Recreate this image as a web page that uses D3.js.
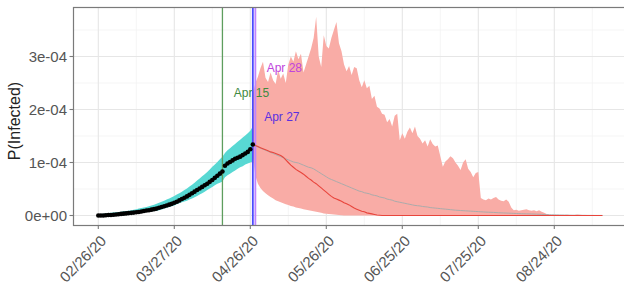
<!DOCTYPE html>
<html>
<head>
<meta charset="utf-8">
<script src="https://cdn.jsdelivr.net/npm/d3@7"></script>
<style>
  html, body { margin: 0; padding: 0; background: #fff; }
  svg { display: block; }
</style>
</head>
<body>
<svg id="chart" width="624" height="289"></svg>
<script>
// ---------------- DATA (values in units of 1e-4) ----------------
const obsStart = "02/26/20";
const obsVal = [
  0.00,0.00,0.00,0.005,0.01,0.01,0.015,0.02,0.025,0.03,
  0.035,0.04,0.045,0.05,0.055,0.06,0.065,0.075,0.085,0.095,
  0.10,0.11,0.12,0.13,0.145,0.16,0.175,0.19,0.205,0.22,
  0.24,0.26,0.285,0.31,0.335,0.36,0.39,0.42,0.45,0.48,
  0.51,0.54,0.57,0.60,0.635,0.67,0.71,0.75,0.79,0.83,
  0.94,0.98,1.01,1.04,1.07,1.09,1.11,1.14,1.17,1.20,
  1.25,1.34
];
const obsHi = [
  0.03,0.03,0.035,0.04,0.045,0.05,0.055,0.06,0.065,0.07,
  0.08,0.085,0.09,0.10,0.11,0.12,0.13,0.14,0.15,0.16,
  0.175,0.19,0.205,0.22,0.24,0.26,0.28,0.30,0.32,0.345,
  0.37,0.395,0.42,0.45,0.48,0.51,0.545,0.58,0.62,0.66,
  0.70,0.74,0.78,0.82,0.87,0.92,0.96,1.01,1.06,1.11,
  1.18,1.23,1.27,1.31,1.35,1.39,1.43,1.47,1.51,1.55,
  1.60,1.68
];
const obsLo = [
  0,0,0,0,0,0,0,0,0,0,
  0.005,0.01,0.015,0.02,0.03,0.035,0.04,0.05,0.06,0.07,
  0.075,0.08,0.085,0.09,0.10,0.115,0.13,0.145,0.16,0.175,
  0.19,0.21,0.23,0.25,0.265,0.28,0.30,0.32,0.345,0.37,
  0.395,0.42,0.45,0.48,0.51,0.54,0.57,0.60,0.62,0.64,
  0.72,0.76,0.79,0.82,0.85,0.88,0.91,0.93,0.96,0.98,
  1.00,1.02
];

const predStart = "04/27/20";
const predHi = [
  2.3,2.5,2.62,2.78,2.9,2.6,2.52,2.7,2.55,2.48,
  2.75,2.58,2.68,2.5,2.85,3.0,2.9,3.1,2.95,3.05,
  2.7,2.85,3.0,3.15,3.35,3.75,3.0,2.8,3.4,3.2,
  3.15,3.35,3.5,3.65,3.25,3.1,2.85,2.72,2.82,2.65,
  2.8,2.78,2.55,2.42,2.55,2.4,2.45,2.2,2.26,2.05,
  2.02,1.92,1.9,1.76,1.82,1.68,1.88,1.92,1.42,1.55,
  1.45,1.58,1.66,1.55,1.68,1.5,1.45,1.36,1.42,1.3,
  1.44,1.35,1.3,1.32,1.12,0.92,1.02,1.06,1.12,1.08,
  1.0,0.94,0.86,1.0,1.06,0.88,0.82,0.72,0.8,0.82,
  0.33,0.3,0.29,0.32,0.3,0.33,0.35,0.3,0.28,0.27,
  0.3,0.26,0.15,0.1,0.11,0.09,0.1,0.11,0.12,0.1,
  0.09,0.1,0.08,0.1,0.07,0.05,0.03,0.01,0,0,
  0.005,0,0,0.01,0.015,0.01,0,0.01,0.02,0.015,
  0.01,0,0.01,0.005,0,0,0,0,0
];
const predLo = [
  1.1,0.75,0.6,0.52,0.46,0.42,0.38,0.35,0.32,0.29,
  0.27,0.25,0.23,0.21,0.2,0.18,0.17,0.15,0.14,0.13,
  0.12,0.11,0.1,0.09,0.08,0.07,0.06,0.05,0.04,0.035,
  0.03,0.025,0.02,0.015,0.01,0.005,0,0,0,0,
  0,0,0,0,0,0,0,0,0,0,
  0,0,0,0,0,0,0,0,0,0,
  0,0,0,0,0,0,0,0,0,0,
  0,0,0,0,0,0,0,0,0,0,
  0,0,0,0,0,0,0,0,0,0,
  0,0,0,0,0,0,0,0,0,0,
  0,0,0,0,0,0,0,0,0,0,
  0,0,0,0,0,0,0,0,0,0,
  0,0,0,0,0,0,0,0,0,0,
  0,0,0,0,0,0,0,0,0
];
const predMed = [
  1.34,1.32,1.3,1.28,1.26,1.24,1.22,1.2,1.19,1.17,
  1.15,1.13,1.1,1.05,1.0,0.95,0.91,0.87,0.84,0.81,
  0.78,0.74,0.7,0.67,0.63,0.6,0.56,0.52,0.48,0.44,
  0.4,0.36,0.33,0.31,0.29,0.27,0.24,0.22,0.2,0.17,
  0.14,0.12,0.1,0.08,0.07,0.05,0.04,0.03,0.02,0.01,
  0.005,0,0,0,0,0,0,0,0,0,
  0,0,0,0,0,0,0,0,0,0,
  0,0,0,0,0,0,0,0,0,0,
  0,0,0,0,0,0,0,0,0,0,
  0,0,0,0,0,0,0,0,0,0,
  0,0,0,0,0,0,0,0,0,0,
  0,0,0,0,0,0,0,0,0,0,
  0,0,0,0,0,0,0,0,0,0,
  0,0,0,0,0,0,0,0,0
];
const predMean = [
  1.33,1.31,1.29,1.27,1.25,1.23,1.21,1.19,1.17,1.15,
  1.13,1.11,1.09,1.07,1.05,1.03,1.01,1.0,0.99,0.97,
  0.95,0.93,0.91,0.9,0.88,0.85,0.82,0.79,0.76,0.73,
  0.7,0.68,0.66,0.64,0.62,0.6,0.58,0.56,0.54,0.52,
  0.5,0.48,0.46,0.45,0.43,0.42,0.41,0.39,0.38,0.37,
  0.35,0.34,0.33,0.31,0.3,0.29,0.27,0.26,0.25,0.24,
  0.23,0.22,0.21,0.2,0.19,0.185,0.18,0.17,0.165,0.16,
  0.15,0.145,0.14,0.135,0.13,0.125,0.12,0.115,0.11,0.105,
  0.1,0.097,0.094,0.091,0.088,0.085,0.082,0.079,0.076,0.073,
  0.07,0.067,0.064,0.062,0.06,0.058,0.055,0.052,0.05,0.048,
  0.046,0.044,0.042,0.04,0.038,0.036,0.034,0.032,0.031,0.03,
  0.029,0.027,0.025,0.023,0.021,0.019,0.017,0.015,0.013,0.012,
  0.011,0.01,0.009,0.008,0.007,0.006,0.005,0.005,0.004,0.004,
  0.003,0.003,0.002,0.002,0.002,0.001,0.001,0.001,0.001
];

const xTickLabels = ["02/26/20","03/27/20","04/26/20","05/26/20","06/25/20","07/25/20","08/24/20"];
const yTickValues = [0, 1, 2, 3];
const yTickLabels = ["0e+00","1e-04","2e-04","3e-04"];

const eventDates  = ["04/15/20","04/27/20","04/28/20"];
const eventLabels = ["Apr 15","Apr 27","Apr 28"];
const eventLabelY = [2.31, 1.85, 2.78];
const eventColors = ["#5e9e5e","#4b4bff","#c084ff"];
const eventTextColors = ["#3f8a3f","#5a30e0","#c044dc"];

// ---------------- DRAW ----------------
const parse = d3.utcParse("%m/%d/%y");
const svg = d3.select("#chart");
const P = {left: 73, top: 7, right: 640, bottom: 225};

const x = d3.scaleUtc()
  .domain([parse("02/26/20"), parse("08/24/20")])
  .range([98.3, 554.3]);
const y = d3.scaleLinear().domain([0, 3]).range([215.5, 56.5]);

const obs = obsVal.map((v, i) => ({d: d3.utcDay.offset(parse(obsStart), i), v, lo: obsLo[i], hi: obsHi[i]}));
const pred = predHi.map((h, i) => ({d: d3.utcDay.offset(parse(predStart), i), hi: h, lo: predLo[i], med: predMed[i], mean: predMean[i]}));

svg.append("defs").append("clipPath").attr("id", "clip")
  .append("rect").attr("x", P.left).attr("y", P.top)
  .attr("width", P.right - P.left).attr("height", P.bottom - P.top);

svg.append("rect").attr("x", P.left).attr("y", P.top)
  .attr("width", P.right - P.left).attr("height", P.bottom - P.top)
  .attr("fill", "#fff");

const grid = svg.append("g").attr("clip-path", "url(#clip)");
const xTicks = xTickLabels.map(parse);
const xMinor = [];
for (let i = -1; i < xTicks.length; i++) {
  const a = i >= 0 ? xTicks[i] : d3.utcDay.offset(xTicks[0], -30);
  xMinor.push(d3.utcDay.offset(a, 15));
}
grid.selectAll(".xminor").data(xMinor).join("line")
  .attr("x1", d => x(d)).attr("x2", d => x(d))
  .attr("y1", P.top).attr("y2", P.bottom)
  .attr("stroke", "#f2f2f2").attr("stroke-width", 0.8);
const yMinor = [0.5, 1.5, 2.5, 3.5];
grid.selectAll(".yminor").data(yMinor).join("line")
  .attr("x1", P.left).attr("x2", P.right)
  .attr("y1", d => y(d)).attr("y2", d => y(d))
  .attr("stroke", "#f2f2f2").attr("stroke-width", 0.8);
grid.selectAll(".xmajor").data(xTicks).join("line")
  .attr("x1", d => x(d)).attr("x2", d => x(d))
  .attr("y1", P.top).attr("y2", P.bottom)
  .attr("stroke", "#e6e6e6").attr("stroke-width", 1.1);
grid.selectAll(".ymajor").data(yTickValues).join("line")
  .attr("x1", P.left).attr("x2", P.right)
  .attr("y1", d => y(d)).attr("y2", d => y(d))
  .attr("stroke", "#e6e6e6").attr("stroke-width", 1.1);

const plot = svg.append("g").attr("clip-path", "url(#clip)");

plot.append("path").datum(obs)
  .attr("fill", "#58d8d3")
  .attr("d", d3.area().x(d => x(d.d)).y0(d => y(d.lo)).y1(d => y(d.hi)));

plot.append("path").datum(pred)
  .attr("fill", "#f9aca6")
  .attr("d", d3.area().x(d => x(d.d)).y0(d => y(d.lo)).y1(d => y(d.hi)));

eventDates.forEach((ds, i) => {
  plot.append("line")
    .attr("x1", x(parse(ds))).attr("x2", x(parse(ds)))
    .attr("y1", P.top).attr("y2", P.bottom)
    .attr("stroke", eventColors[i]).attr("stroke-width", i === 0 ? 1.3 : 1.8);
});

plot.append("path").datum(pred)
  .attr("fill", "none").attr("stroke", "#ababab").attr("stroke-width", 1)
  .attr("d", d3.line().x(d => x(d.d)).y(d => y(d.mean)));
plot.append("path").datum(pred)
  .attr("fill", "none").attr("stroke", "#e8453c").attr("stroke-width", 1.1)
  .attr("d", d3.line().x(d => x(d.d)).y(d => y(d.med)));

plot.selectAll(".pt").data(obs).join("circle")
  .attr("cx", d => x(d.d)).attr("cy", d => y(d.v)).attr("r", 2.3)
  .attr("fill", "#000");

const font = "Liberation Sans, Arial, sans-serif";
eventDates.forEach((ds, i) => {
  svg.append("text")
    .attr("x", x(parse(ds)) + 29).attr("y", y(eventLabelY[i]))
    .attr("text-anchor", "middle").attr("dominant-baseline", "central")
    .attr("font-family", font)
    .attr("font-size", 12).attr("fill", eventTextColors[i])
    .text(eventLabels[i]);
});

svg.append("rect").attr("x", P.left + 0.5).attr("y", P.top + 0.5)
  .attr("width", P.right - P.left).attr("height", P.bottom - P.top)
  .attr("fill", "none").attr("stroke", "#7a7a7a").attr("stroke-width", 1.2);

const yAxis = svg.append("g");
yTickValues.forEach((v, i) => {
  yAxis.append("line").attr("x1", P.left - 3.5).attr("x2", P.left)
    .attr("y1", y(v)).attr("y2", y(v)).attr("stroke", "#7a7a7a").attr("stroke-width", 1.1);
  yAxis.append("text").attr("x", P.left - 6).attr("y", y(v))
    .attr("text-anchor", "end").attr("dominant-baseline", "central")
    .attr("font-family", font).attr("font-size", 15).attr("fill", "#555")
    .text(yTickLabels[i]);
});
const xAxis = svg.append("g");
xTicks.forEach((d, i) => {
  xAxis.append("line").attr("x1", x(d)).attr("x2", x(d))
    .attr("y1", P.bottom + 0.5).attr("y2", P.bottom + 4)
    .attr("stroke", "#7a7a7a").attr("stroke-width", 1.1);
  xAxis.append("text")
    .attr("transform", `translate(${x(d) + 5},${P.bottom + 13}) rotate(-45)`)
    .attr("text-anchor", "end").attr("dominant-baseline", "central")
    .attr("font-family", font).attr("font-size", 15).attr("fill", "#555")
    .text(xTickLabels[i]);
});

svg.append("text")
  .attr("transform", `translate(14,121) rotate(-90)`)
  .attr("text-anchor", "middle").attr("dominant-baseline", "central")
  .attr("font-family", font).attr("font-size", 16).attr("fill", "#222")
  .text("P(Infected)");
</script>
</body>
</html>
